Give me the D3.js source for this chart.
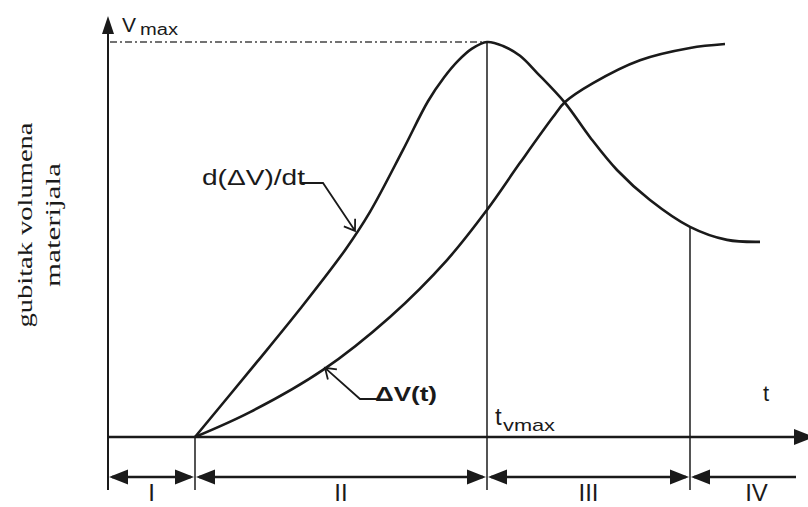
<!DOCTYPE html>
<html>
<head>
    <script src="https://d3js.org/d3.v7.min.js"></script>
    <style>
        body { margin: 0; background: #fff; }
        svg { display: block; }
        .sans { font-family: "Liberation Sans", Arial, sans-serif; fill: #1a1a1a; }
        .serif { font-family: "Liberation Serif", "Times New Roman", serif; fill: #1a1a1a; }
    </style>
</head>
<body>
    <svg width="808" height="507"></svg>

    <script>
        const width = 808, height = 507;
        const svg = d3.select("svg");

        // d(dV)/dt curve: time and rate (vmax = 1)
        const tRate = [8.7, 14.9, 19.2, 23.7, 26.2, 29.5, 32.0, 33.6, 35.0, 36.4, 37.9, 39.5, 41.2, 42.9, 45.7, 48.2, 50.9, 54.2, 58.2, 61.9, 65.2];
        const vRate = [0, 0.19, 0.324, 0.473, 0.57, 0.727, 0.85, 0.91, 0.952, 0.983, 1.0, 0.99, 0.965, 0.922, 0.846, 0.759, 0.676, 0.6, 0.532, 0.499, 0.494];

        // dV(t) curve
        const tLoss = [8.7, 14.2, 21.5, 28.2, 33.9, 37.9, 41.2, 44.5, 45.7, 48.5, 53.2, 58.2, 61.7];
        const vLoss = [0, 0.063, 0.17, 0.304, 0.448, 0.575, 0.694, 0.81, 0.848, 0.896, 0.954, 0.985, 0.995];

        // phases
        const phaseLabels = ["I", "II", "III", "IV"];
        const phaseStart = [0, 8.7, 37.9, 58.2];
        const phaseEnd = [8.7, 37.9, 58.2, 68.8];
        const boundaryT = [8.7, 37.9, 58.2];
        const boundaryTop = [0, 1, 0.532];
        const tVmax = 37.9;

        // scales
        const x = d3.scaleLinear().domain([0, 70]).range([108, 808]);
        const y = d3.scaleLinear().domain([0, 1]).range([437, 42]);

        const ink = "#1a1a1a";
        const y0 = y(0);

        function triangle(tipX, tipY, dx, dy, len, half) {
            // filled arrow head pointing along (dx, dy)
            const n = Math.hypot(dx, dy), ux = dx / n, uy = dy / n;
            const bx = tipX - ux * len, by = tipY - uy * len;
            return `M${tipX},${tipY}L${bx - uy * half},${by + ux * half}L${bx + uy * half},${by - ux * half}Z`;
        }
        function openHead(tipX, tipY, dx, dy, len, ang) {
            const a = Math.atan2(dy, dx) + Math.PI;
            const p1 = [tipX + len * Math.cos(a - ang), tipY + len * Math.sin(a - ang)];
            const p2 = [tipX + len * Math.cos(a + ang), tipY + len * Math.sin(a + ang)];
            return `M${p1[0]},${p1[1]}L${tipX},${tipY}L${p2[0]},${p2[1]}`;
        }

        // vmax dash-dot guide
        svg.append("line")
            .attr("x1", x(0) + 2).attr("x2", x(tVmax))
            .attr("y1", y(1)).attr("y2", y(1))
            .attr("stroke", "#444").attr("stroke-width", 1.5)
            .attr("stroke-dasharray", "7,3,2,3");

        // phase boundary lines
        svg.selectAll("line.bound")
            .data(boundaryT)
            .enter().append("line")
            .attr("class", "bound")
            .attr("x1", d => x(d)).attr("x2", d => x(d))
            .attr("y1", (d, i) => y(boundaryTop[i]))
            .attr("y2", y0 + 53)
            .attr("stroke", "#2a2a2a").attr("stroke-width", 1.6);

        // axes
        svg.append("line")
            .attr("x1", x(0)).attr("x2", x(0))
            .attr("y1", y0 + 53).attr("y2", 30)
            .attr("stroke", ink).attr("stroke-width", 2);
        svg.append("path")
            .attr("d", triangle(x(0), 16, 0, -1, 18, 6))
            .attr("fill", ink);
        svg.append("line")
            .attr("x1", x(0)).attr("x2", 798)
            .attr("y1", y0).attr("y2", y0)
            .attr("stroke", ink).attr("stroke-width", 2.5);
        svg.append("path")
            .attr("d", triangle(814, y0, 1, 0, 20, 8))
            .attr("fill", ink);

        // curves
        const line = d3.line()
            .x(d => x(d[0]))
            .y(d => y(d[1]))
            .curve(d3.curveCatmullRom.alpha(0.5));

        svg.append("path")
            .datum(d3.zip(tRate, vRate))
            .attr("d", line)
            .attr("fill", "none").attr("stroke", ink).attr("stroke-width", 2.6);

        svg.append("path")
            .datum(d3.zip(tLoss, vLoss))
            .attr("d", line)
            .attr("fill", "none").attr("stroke", ink).attr("stroke-width", 2.6);

        // phase arrows
        const arrowY = 477;
        svg.selectAll("line.phase")
            .data(phaseLabels)
            .enter().append("line")
            .attr("class", "phase")
            .attr("x1", (d, i) => x(phaseStart[i]) + 4)
            .attr("x2", (d, i) => x(phaseEnd[i]) - (i < 3 ? 4 : 0))
            .attr("y1", arrowY).attr("y2", arrowY)
            .attr("stroke", ink).attr("stroke-width", 2.5);
        phaseLabels.forEach((d, i) => {
            svg.append("path")
                .attr("d", triangle(x(phaseStart[i]) + 1, arrowY, -1, 0, 19, 7.5))
                .attr("fill", ink);
            if (i < 3) {
                svg.append("path")
                    .attr("d", triangle(x(phaseEnd[i]) - 1, arrowY, 1, 0, 19, 7.5))
                    .attr("fill", ink);
            }
        });
        svg.selectAll("text.phase")
            .data(phaseLabels)
            .enter().append("text")
            .attr("class", "phase sans")
            .attr("x", (d, i) => (x(phaseStart[i]) + x(i < 3 ? phaseEnd[i] : 71.5)) / 2)
            .attr("y", 501)
            .attr("text-anchor", "middle")
            .attr("font-size", "24px")
            .text(d => d);

        // y label
        svg.append("text")
            .attr("class", "serif")
            .attr("transform", "translate(32,225) rotate(-90)")
            .attr("text-anchor", "middle")
            .attr("font-size", "21px")
            .attr("textLength", 205).attr("lengthAdjust", "spacingAndGlyphs")
            .text("gubitak volumena");
        svg.append("text")
            .attr("class", "serif")
            .attr("transform", "translate(60,225) rotate(-90)")
            .attr("text-anchor", "middle")
            .attr("font-size", "21px")
            .attr("textLength", 124).attr("lengthAdjust", "spacingAndGlyphs")
            .text("materijala");

        // vmax label
        svg.append("text").attr("class", "sans")
            .attr("x", x(0) + 14).attr("y", 32)
            .attr("font-size", "21px")
            .text("V");
        svg.append("text").attr("class", "sans")
            .attr("x", x(0) + 32).attr("y", 35)
            .attr("font-size", "16px")
            .attr("textLength", 38).attr("lengthAdjust", "spacingAndGlyphs")
            .text("max");

        // t axis label
        svg.append("text").attr("class", "sans")
            .attr("x", 763).attr("y", 401)
            .attr("font-size", "22px")
            .text("t");

        // t_vmax label
        svg.append("text").attr("class", "sans")
            .attr("x", x(tVmax) + 8).attr("y", 425)
            .attr("font-size", "24px")
            .text("t");
        svg.append("text").attr("class", "sans")
            .attr("x", x(tVmax) + 16).attr("y", 431)
            .attr("font-size", "17px")
            .attr("textLength", 52).attr("lengthAdjust", "spacingAndGlyphs")
            .text("vmax");

        // d(dV)/dt annotation
        const rateTip = [x(24.7), y(0.522)];
        svg.append("text").attr("class", "sans")
            .attr("x", 202).attr("y", 185)
            .attr("font-size", "22px")
            .attr("textLength", 103).attr("lengthAdjust", "spacingAndGlyphs")
            .text("d(\u0394V)/dt");
        svg.append("path")
            .attr("d", `M300,183L323,183L${rateTip[0]},${rateTip[1]}` +
                openHead(rateTip[0], rateTip[1], rateTip[0] - 323, rateTip[1] - 183, 12, 0.6))
            .attr("fill", "none").attr("stroke", ink).attr("stroke-width", 1.8);

        // dV(t) annotation
        const lossTip = [x(21.7), y(0.175)];
        svg.append("text").attr("class", "sans")
            .attr("x", 375).attr("y", 401)
            .attr("font-size", "20px").attr("font-weight", "bold")
            .attr("textLength", 62).attr("lengthAdjust", "spacingAndGlyphs")
            .text("\u0394V(t)");
        svg.append("path")
            .attr("d", `M378,399L360,399L${lossTip[0]},${lossTip[1]}` +
                openHead(lossTip[0], lossTip[1], lossTip[0] - 360, lossTip[1] - 399, 12, 0.6))
            .attr("fill", "none").attr("stroke", ink).attr("stroke-width", 1.8);
    </script>
</body>
</html>
